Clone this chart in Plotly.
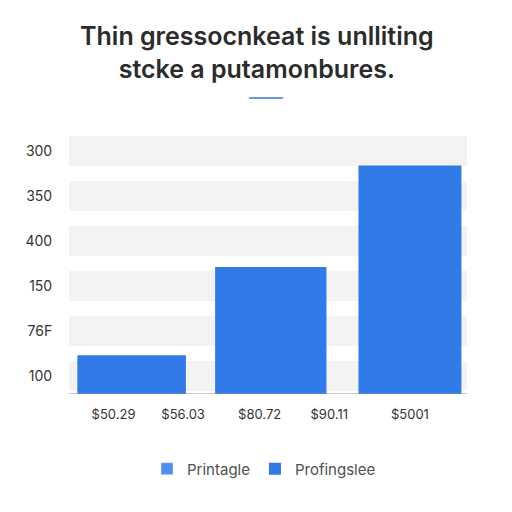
import plotly.graph_objects as go

# chart data
bar_slots = [0, 1, 2]
bar_values = [43, 141, 254]
y_tick_values = [20, 70, 120, 170, 220, 270]
y_tick_labels = ["100", "76F", "150", "400", "350", "300"]
x_tick_labels = ["$50.29", "$56.03", "$80.72", "$90.11", "$5001"]
series_names = ["Printagle", "Profingslee"]

title_text = "Thin gressocnkeat is unlliting<br>stcke a putamonbures."

# layout helpers
x_tick_positions = [-0.13, 0.37, 0.92, 1.42, 2.0]
band_half = 16.7

fig = go.Figure()

# legend-only entry for the lighter series
fig.add_trace(go.Bar(x=[None], y=[None], name=series_names[0],
                     marker=dict(color="#4b90f0")))
fig.add_trace(go.Bar(x=bar_slots, y=bar_values, name=series_names[1],
                     width=[0.78, 0.8, 0.74],
                     marker=dict(color="#317ae8", line=dict(width=0))))

# light grey bands behind each tick
for v in y_tick_values:
    fig.add_shape(type="rect", xref="paper", yref="y", x0=0, x1=1,
                  y0=v - band_half, y1=v + band_half,
                  fillcolor="#f3f3f3", line=dict(width=0), layer="below")

# baseline
fig.add_shape(type="line", xref="paper", yref="y", x0=0, x1=1, y0=0, y1=0,
              line=dict(color="#8d939b", width=1))

# small accent line under the title
fig.add_shape(type="line", xref="paper", yref="paper", x0=0.452, x1=0.538,
              y0=1.134, y1=1.134, line=dict(color="#6a9bd6", width=2))

fig.update_layout(
    width=512, height=512,
    margin=dict(l=61, r=53, t=125, b=126),
    paper_bgcolor="white", plot_bgcolor="white",
    title=dict(text=title_text, x=0.486, xanchor="center", xref="container",
               y=0.927, yanchor="middle", yref="container",
               font=dict(family="Inter", size=25, color="#2b2b2b", weight=600)),
    font=dict(family="Inter", color="#333333"),
    showlegend=True,
    legend=dict(orientation="h", x=0.49, xanchor="center", y=-0.287, yanchor="middle",
                font=dict(size=15, color="#505050"), itemwidth=30,
                bgcolor="rgba(0,0,0,0)"),
    bargap=0.2,
)

fig.update_xaxes(range=[-0.45, 2.41], tickvals=x_tick_positions, ticktext=x_tick_labels,
                 showgrid=False, zeroline=False, showline=False,
                 tickfont=dict(size=13, color="#333333"), ticks="outside",
                 ticklen=8, tickcolor="rgba(0,0,0,0)")
fig.update_yaxes(range=[0, 290], tickvals=y_tick_values, ticktext=y_tick_labels,
                 showgrid=False, zeroline=False, showline=False,
                 tickfont=dict(size=14, color="#333333"), ticks="outside",
                 ticklen=13, tickcolor="rgba(0,0,0,0)")

fig.write_html("out.html")
